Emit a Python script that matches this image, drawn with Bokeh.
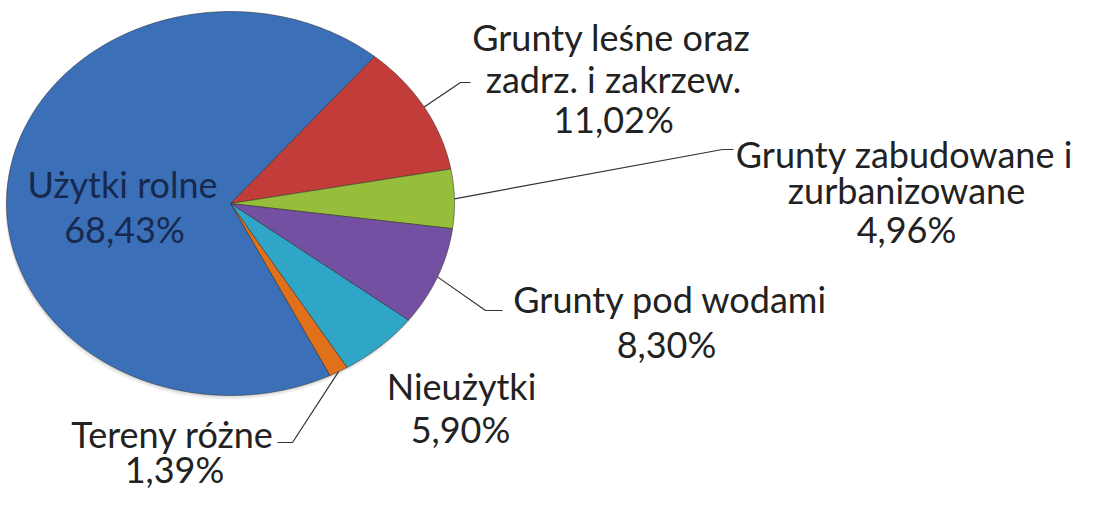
import numpy as np
from bokeh.plotting import figure
from bokeh.models import Range1d, ColumnDataSource
from bokeh.embed import file_html
from bokeh.resources import INLINE
from bokeh.core.properties import value

# ---- data ----
categories = ["Grunty leśne oraz zadrz. i zakrzew.", "Grunty zabudowane i zurbanizowane",
              "Grunty pod wodami", "Nieużytki", "Tereny różne", "Użytki rolne"]
shares = [11.02, 4.96, 8.30, 5.90, 1.39, 68.43]
label_names = [["Grunty leśne oraz", "zadrz. i zakrzew."],
               ["Grunty zabudowane i", "zurbanizowane"],
               ["Grunty pod wodami"],
               ["Nieużytki"],
               ["Tereny różne"],
               ["Użytki rolne"]]

# ---- style / layout ----
colors = ["#C23D3A", "#96BE3A", "#7450A3", "#2FA6C7", "#E0711A", "#3B70B8"]
W, H = 1077, 490
CX, CY, RX, RY = 230, 203, 224, 192
START = 40.0  # degrees clockwise from 12 o'clock
FONT = "Lato"
FS = "36px"
# label line centres (plot px): one per line, last is the percentage
label_pos = [[(611, 36), (613, 78), (613, 118)],
             [(904, 153), (906, 189), (906, 228)],
             [(670, 298), (666, 343)],
             [(461, 385), (460, 428)],
             [(172, 433), (174, 468)],
             [(122, 183), (124, 228)]]
# leader elbows and ends (plot px), None = no leader
leaders = [((460, 82), (470, 82)),
           ((722, 149), (733, 149)),
           ((485, 310), (502, 310)),
           None,
           ((292, 442), (277, 442)),
           None]
text_colors = ["#222222"] * 5 + ["#17294F"]


def pt(theta_deg, r=1.0):
    t = np.radians(theta_deg)
    return CX + r * RX * np.sin(t), CY - r * RY * np.cos(t)


p = figure(width=W, height=H, x_range=Range1d(0, W), y_range=Range1d(H, 0),
           output_backend="svg", toolbar_location=None, min_border=0)
p.axis.visible = False
p.grid.visible = False
p.outline_line_color = None
p.background_fill_color = "white"

# soft shadow
tt = np.linspace(0, 360, 200)
for k, a in [(4, 0.06), (2, 0.08)]:
    sx, sy = pt(tt)
    p.patch(sx - k * 0.3, sy + k, fill_color="black", fill_alpha=a, line_color=None)

total = sum(shares)
cum = START
xs, ys, mids = [], [], []
for v in shares:
    sweep = v / total * 360.0
    t2 = np.linspace(cum, cum + sweep, max(int(sweep * 2), 4))
    ax, ay = pt(t2)
    xs.append([CX] + list(ax))
    ys.append([CY] + list(ay))
    mids.append(cum + sweep / 2)
    cum += sweep

src = ColumnDataSource(dict(xs=xs, ys=ys, color=colors, name=categories))
p.patches("xs", "ys", source=src, fill_color="color", line_color="#2a2a2a",
          line_alpha=0.5, line_width=1)

# leaders
for i, ld in enumerate(leaders):
    if ld is None:
        continue
    sx, sy = pt(mids[i], 1.0)
    (ex, ey), (fx, fy) = ld
    p.line([sx, ex, fx], [sy, ey, fy], line_color="#333333", line_width=1.2)

# labels
tx, ty, tt_, tc = [], [], [], []
for i, names in enumerate(label_names):
    lines = names + [f"{shares[i]:.2f}".replace(".", ",") + "%"]
    for (x, y), s in zip(label_pos[i], lines):
        tx.append(x); ty.append(y); tt_.append(s); tc.append(text_colors[i])
p.text(x=tx, y=ty, text=tt_, text_color=tc, text_font=value(FONT),
       text_font_size=FS, text_align="center", text_baseline="middle")

open("out.html", "w").write(file_html(p, INLINE))
